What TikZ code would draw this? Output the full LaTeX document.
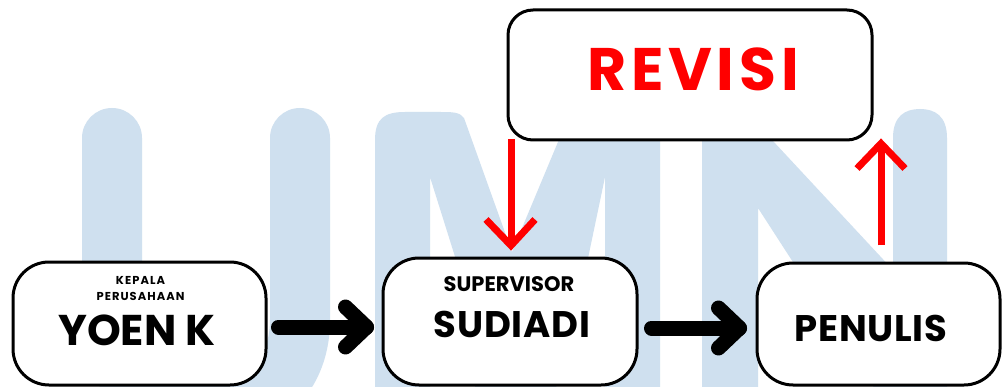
\documentclass[tikz,border=0pt]{standalone}
\usepackage{fontspec}
\setmainfont{Poppins}
\usetikzlibrary{calc}
\definecolor{wm}{RGB}{207,224,239}
\definecolor{rv}{RGB}{255,0,0}
\begin{document}
\begin{tikzpicture}[x=1pt,y=-1pt,
  box/.style={draw=black, line width=3pt, fill=white, rounded corners=36pt, inner sep=0pt},
  lbl/.style={inner sep=0pt, font=\bfseries},
  bigarrow/.style={line width=15pt, line cap=round, line join=round},
  redarrow/.style={draw=rv, line width=7pt, line cap=butt, line join=miter}]
\useasboundingbox (0,0) rectangle (1003,387);
\fill[white] (0,0) rectangle (1003,387);
% watermark U
\draw[wm, line width=60pt, line cap=round] (112,138) -- (112,320) .. controls (112,445) and (300,445) .. (300,320) -- (300,138);
% watermark M
\fill[wm] (375,420) -- (375,140) .. controls (375,118) and (385,112) .. (405,112) -- (440,112) .. controls (452,112) and (460,112) .. (464,118)
  -- (512,252) -- (568,118) .. controls (572,112) and (580,112) .. (592,112) -- (630,112) .. controls (652,112) and (660,120) .. (660,140)
  -- (660,420) -- (605,420) -- (605,177) -- (587,263) -- (548,420) -- (480,420) -- (457,263) -- (430,177) -- (430,420) -- cycle;
% watermark N
\fill[wm] (702,420) -- (702,140) .. controls (702,118) and (712,112) .. (730,112) -- (746,112) -- (893,270) -- (893,138)
  .. controls (893,116) and (905,109) .. (920,109) .. controls (935,109) and (947,116) .. (947,138) -- (947,420)
  -- (895,420) -- (758,208) -- (758,420) -- cycle;
% boxes
\node[box, minimum width=253pt, minimum height=123pt] (yoen) at (139.5,323.5) {};
\node[box, minimum width=254pt, minimum height=127pt] (sudiadi) at (510,321.5) {};
\node[box, minimum width=243pt, minimum height=122pt] (penulis) at (878.5,324) {};
\node[box, rounded corners=25pt, minimum width=364pt, minimum height=130pt] (revisi) at (690,75) {};
% texts
\node[lbl, font=\bfseries\fontsize{11.5}{12}\selectfont\addfontfeature{LetterSpace=9}] (t1) at (140.5,280) {KEPALA};
\node[lbl, font=\bfseries\fontsize{11.5}{12}\selectfont\addfontfeature{LetterSpace=9}] (t2) at (140.5,296) {PERUSAHAAN};
\node[lbl, font=\bfseries\fontsize{43}{44}\selectfont] (t3) at (137,330) {YOEN K};
\node[lbl, font=\bfseries\fontsize{21}{22}\selectfont] (t4) at (509,284) {SUPERVISOR};
\node[lbl, font=\bfseries\fontsize{37}{38}\selectfont\addfontfeature{LetterSpace=2}] (t5) at (512,324) {SUDIADI};
\node[lbl, font=\bfseries\fontsize{37}{38}\selectfont\addfontfeature{LetterSpace=2}] (t6) at (871,328) {PENULIS};
\node[lbl, text=rv, font=\bfseries\fontsize{60}{62}\selectfont\addfontfeature{LetterSpace=8}] (t7) at (693,69) {REVISI};
% black arrows
\coordinate (a1s) at ($(yoen.east)+(11,3.5)$);
\coordinate (a1t) at ($(sudiadi.west)+(-15,0)$);
\draw[bigarrow] (a1s) -- (a1s -| a1t);
\draw[bigarrow] ($(a1s -| a1t)+(-21,-20)$) -- (a1s -| a1t) -- ($(a1s -| a1t)+(-21,20)$);
\coordinate (a2s) at ($(sudiadi.east)+(13,6.5)$);
\coordinate (a2t) at ($(penulis.west)+(-16,0)$);
\draw[bigarrow] (a2s) -- (a2s -| a2t);
\draw[bigarrow] ($(a2s -| a2t)+(-21,-20)$) -- (a2s -| a2t) -- ($(a2s -| a2t)+(-21,20)$);
% red arrows
\coordinate (r1s) at (revisi.south -| sudiadi.north);
\coordinate (r1t) at ($(r1s)+(0,104)$);
\draw[redarrow] ($(r1s)+(1,-2)$) -- ($(r1t)+(1,0)$);
\draw[redarrow] ($(r1t)+(-24,-26)$) -- ($(r1t)+(1,0)$) -- ($(r1t)+(25,-26)$);
\coordinate (r2s) at ($(penulis.north)+(2.5,-16)$);
\coordinate (r2t) at ($(r2s)+(0,-102)$);
\draw[redarrow] (r2s) -- (r2t);
\draw[redarrow] ($(r2t)+(-24,25)$) -- (r2t) -- ($(r2t)+(24,25)$);
\end{tikzpicture}
\end{document}
